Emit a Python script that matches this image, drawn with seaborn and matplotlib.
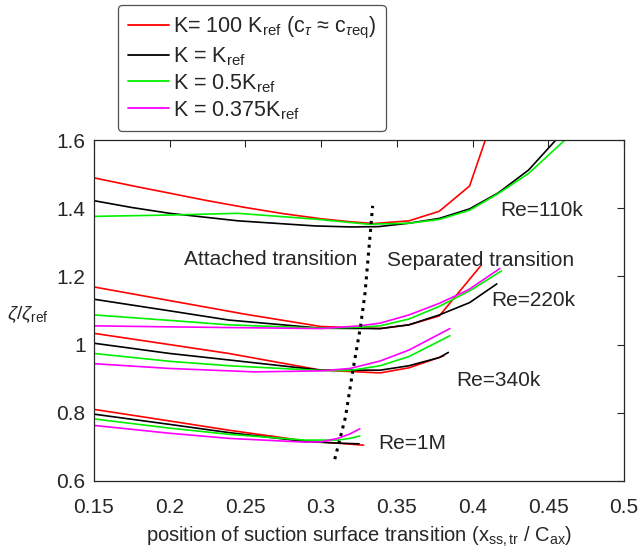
import pandas as pd
import matplotlib
matplotlib.use("Agg")
import matplotlib.pyplot as plt
import seaborn as sns
from matplotlib.lines import Line2D

sns.set_style("white")
plt.rcParams["font.family"] = ["Liberation Sans", "DejaVu Sans"]
plt.rcParams["mathtext.fontset"] = "custom"
plt.rcParams["mathtext.rm"] = "Liberation Sans"
plt.rcParams["mathtext.it"] = "Liberation Sans:italic"

# ---------- data ----------
k_labels = ["K100", "K1", "K05", "K0375"]
k_colors = {"K100": "#ff0000", "K1": "#000000", "K05": "#00f000", "K0375": "#ff00ff"}

# Re = 110k
x_110_red = [0.15, 0.175, 0.2, 0.225, 0.25, 0.275, 0.3, 0.32, 0.335, 0.358, 0.378, 0.398, 0.41]
y_110_red = [1.489, 1.466, 1.444, 1.422, 1.402, 1.384, 1.369, 1.360, 1.355, 1.363, 1.391, 1.465, 1.62]
x_110_blk = [0.15, 0.175, 0.2, 0.245, 0.296, 0.32, 0.338, 0.358, 0.378, 0.398, 0.417, 0.437, 0.455]
y_110_blk = [1.422, 1.402, 1.385, 1.363, 1.348, 1.345, 1.346, 1.356, 1.370, 1.398, 1.445, 1.512, 1.60]
x_110_grn = [0.15, 0.2, 0.245, 0.296, 0.331, 0.358, 0.378, 0.398, 0.417, 0.437, 0.461]
y_110_grn = [1.376, 1.380, 1.385, 1.368, 1.353, 1.356, 1.367, 1.394, 1.443, 1.502, 1.60]

# Re = 220k
x_220_red = [0.15, 0.2, 0.25, 0.3, 0.339, 0.358, 0.378, 0.405]
y_220_red = [1.169, 1.129, 1.089, 1.053, 1.047, 1.058, 1.084, 1.229]
x_220_blk = [0.15, 0.2, 0.239, 0.3, 0.339, 0.358, 0.378, 0.398, 0.416]
y_220_blk = [1.133, 1.099, 1.072, 1.048, 1.047, 1.058, 1.087, 1.123, 1.178]
x_220_grn = [0.15, 0.2, 0.239, 0.3, 0.3255, 0.339, 0.358, 0.378, 0.399, 0.419]
y_220_grn = [1.087, 1.071, 1.058, 1.048, 1.051, 1.055, 1.075, 1.112, 1.160, 1.216]
x_220_mag = [0.15, 0.2, 0.239, 0.3, 0.3255, 0.339, 0.358, 0.378, 0.397, 0.418]
y_220_mag = [1.055, 1.052, 1.050, 1.047, 1.055, 1.063, 1.087, 1.121, 1.160, 1.223]

# Re = 340k
x_340_red = [0.15, 0.2, 0.239, 0.3, 0.339, 0.358, 0.381]
y_340_red = [1.033, 1.000, 0.974, 0.925, 0.917, 0.932, 0.967]
x_340_blk = [0.15, 0.2, 0.239, 0.3, 0.339, 0.358, 0.378, 0.384]
y_340_blk = [1.004, 0.974, 0.955, 0.925, 0.925, 0.938, 0.962, 0.977]
x_340_grn = [0.15, 0.2, 0.239, 0.3, 0.319, 0.339, 0.358, 0.385]
y_340_grn = [0.974, 0.951, 0.938, 0.924, 0.924, 0.938, 0.965, 1.026]
x_340_mag = [0.15, 0.2, 0.256, 0.3, 0.319, 0.339, 0.358, 0.385]
y_340_mag = [0.944, 0.930, 0.920, 0.923, 0.930, 0.952, 0.984, 1.047]

# Re = 1M
x_1m_red = [0.15, 0.2, 0.239, 0.289, 0.311, 0.328]
y_1m_red = [0.810, 0.776, 0.749, 0.718, 0.711, 0.705]
x_1m_blk = [0.15, 0.2, 0.239, 0.289, 0.311, 0.325]
y_1m_blk = [0.796, 0.766, 0.742, 0.716, 0.711, 0.709]
x_1m_grn = [0.15, 0.2, 0.239, 0.289, 0.311, 0.319, 0.3255]
y_1m_grn = [0.782, 0.755, 0.737, 0.720, 0.720, 0.725, 0.732]
x_1m_mag = [0.15, 0.2, 0.239, 0.289, 0.3, 0.311, 0.319, 0.3255]
y_1m_mag = [0.763, 0.740, 0.725, 0.714, 0.715, 0.725, 0.738, 0.753]

# attached / separated boundary
x_bound = [0.309, 0.316, 0.321, 0.326, 0.329, 0.332, 0.334]
y_bound = [0.664, 0.786, 0.925, 1.053, 1.152, 1.304, 1.407]

curves = [
    ("110k", "K100", x_110_red, y_110_red),
    ("110k", "K1", x_110_blk, y_110_blk),
    ("110k", "K05", x_110_grn, y_110_grn),
    ("220k", "K100", x_220_red, y_220_red),
    ("220k", "K1", x_220_blk, y_220_blk),
    ("220k", "K05", x_220_grn, y_220_grn),
    ("220k", "K0375", x_220_mag, y_220_mag),
    ("340k", "K100", x_340_red, y_340_red),
    ("340k", "K1", x_340_blk, y_340_blk),
    ("340k", "K05", x_340_grn, y_340_grn),
    ("340k", "K0375", x_340_mag, y_340_mag),
    ("1M", "K100", x_1m_red, y_1m_red),
    ("1M", "K1", x_1m_blk, y_1m_blk),
    ("1M", "K05", x_1m_grn, y_1m_grn),
    ("1M", "K0375", x_1m_mag, y_1m_mag),
]

rows = []
for re, k, xs, ys in curves:
    for xv, yv in zip(xs, ys):
        rows.append({"Re": re, "K": k, "curve": re + k, "x": xv, "y": yv})
df = pd.DataFrame(rows)

# ---------- plot ----------
fig = plt.figure(figsize=(6.41, 5.53), dpi=100)
ax = fig.add_axes([94 / 641, 1 - 481 / 553, 530 / 641, 341 / 553])

sns.lineplot(data=df, x="x", y="y", hue="K", units="curve", estimator=None,
             sort=False, palette=k_colors, hue_order=k_labels,
             linewidth=1.2, legend=False, ax=ax)
sns.lineplot(x=x_bound, y=y_bound, color="black", linestyle=(0, (1, 1.6)),
             linewidth=2.2, sort=False, ax=ax)

ax.set_xlim(0.15, 0.5)
ax.set_ylim(0.6, 1.6)
ax.set_xticks([0.15, 0.2, 0.25, 0.3, 0.35, 0.4, 0.45, 0.5])
ax.set_xticklabels(["0.15", "0.2", "0.25", "0.3", "0.35", "0.4", "0.45", "0.5"])
ax.set_yticks([0.6, 0.8, 1.0, 1.2, 1.4, 1.6])
ax.set_yticklabels(["0.6", "0.8", "1", "1.2", "1.4", "1.6"])
ax.tick_params(direction="in", top=True, right=True, length=5, width=0.8,
               labelsize=15, colors="#262626")
ax.tick_params(axis="x", pad=12)
ax.tick_params(axis="y", pad=6)
for s in ax.spines.values():
    s.set_color("#262626")
    s.set_linewidth(0.9)

ax.set_xlabel(r"position of suction surface transition (x$_{\mathrm{ss,tr}}$ / C$_{\mathrm{ax}}$)",
              fontsize=14.5, color="#262626", labelpad=6)
ax.set_ylabel("")
fig.text(28 / 641, 1 - 315 / 553, r"$\zeta/\zeta_{\mathrm{ref}}$", fontsize=14,
         color="#262626", ha="center", va="center")

txt = dict(fontsize=15, color="#262626", va="center")
ax.text(0.267, 1.251, "Attached transition", ha="center", **txt)
ax.text(0.405, 1.248, "Separated transition", ha="center", **txt)
ax.text(0.418, 1.392, "Re=110k", ha="left", **txt)
ax.text(0.4125, 1.128, "Re=220k", ha="left", **txt)
ax.text(0.389, 0.896, "Re=340k", ha="left", **txt)
ax.text(0.3375, 0.709, "Re=1M", ha="left", **txt)

leg_labels = [
    r"K= 100 K$_{\mathrm{ref}}$ (c$_{\tau}$ ≈ c$_{\tau\mathrm{eq}}$)",
    r"K = K$_{\mathrm{ref}}$",
    r"K = 0.5K$_{\mathrm{ref}}$",
    r"K = 0.375K$_{\mathrm{ref}}$",
]
handles = [Line2D([0], [0], color=k_colors[k], linewidth=1.3) for k in k_labels]
leg = fig.legend(handles, leg_labels, loc="upper left",
                 bbox_to_anchor=(118 / 641, 1 - 5 / 553), fontsize=15.5,
                 frameon=True, fancybox=True, edgecolor="#262626",
                 handlelength=1.9, handletextpad=0.2, labelspacing=0.2,
                 borderpad=0.45, borderaxespad=0)
leg.get_frame().set_linewidth(0.9)

fig.savefig("out.png", dpi=100)
